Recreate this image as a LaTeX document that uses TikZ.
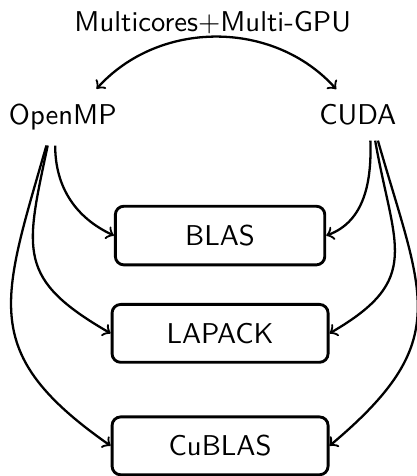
\documentclass[tikz,border=0pt]{standalone}
\usepackage{tikz}
\usetikzlibrary{positioning}

\tikzset{
    lib/.style={draw, line width=1pt, rounded corners=3pt, minimum width=2.65cm, minimum height=0.71cm},
    api/.style={anchor=base, outer sep=2pt},
    link/.style={thick, ->}
}

\begin{document}
\begin{tikzpicture}[every node/.style={font=\sffamily}]
    \useasboundingbox (0,0) rectangle (5.11,-5.84);

    % Platforms
    \node[anchor=base] (hw) at (2.61,-0.39) {Multicores$+$Multi-GPU};
    \node[api] (openmp) at (0.77,-1.53) {OpenMP};
    \node[api] (cuda) at (4.39,-1.53) {CUDA};
    \draw [thick, <->] (openmp.40) to[bend left=48] (cuda.130);

    % Libraries
    \node[lib, minimum width=2.57cm, minimum height=0.72cm] (blas) at (2.70,-2.89) {BLAS};
    \node[lib] (lapack) at (2.70,-4.09) {LAPACK};
    \node[lib] (cublas) at (2.70,-5.47) {CuBLAS};

    % OpenMP arrows
    \draw [link] (openmp.255) to[out=-90, in=155] (blas.west);
    \draw [link] (openmp.242) to[out=-102, in=150, looseness=1.4] (lapack.west);
    \draw [link] (openmp.240) to[out=-106, in=145, looseness=1.35] (cublas.west);

    % CUDA arrows
    \draw [link] (cuda.296) to[out=-88, in=20] (blas.east);
    \draw [link] (cuda.304) to[out=-80, in=30, looseness=1.4] (lapack.east);
    \draw [link] (cuda.308) to[out=-74, in=40, looseness=1.35] (cublas.east);
\end{tikzpicture}
\end{document}
